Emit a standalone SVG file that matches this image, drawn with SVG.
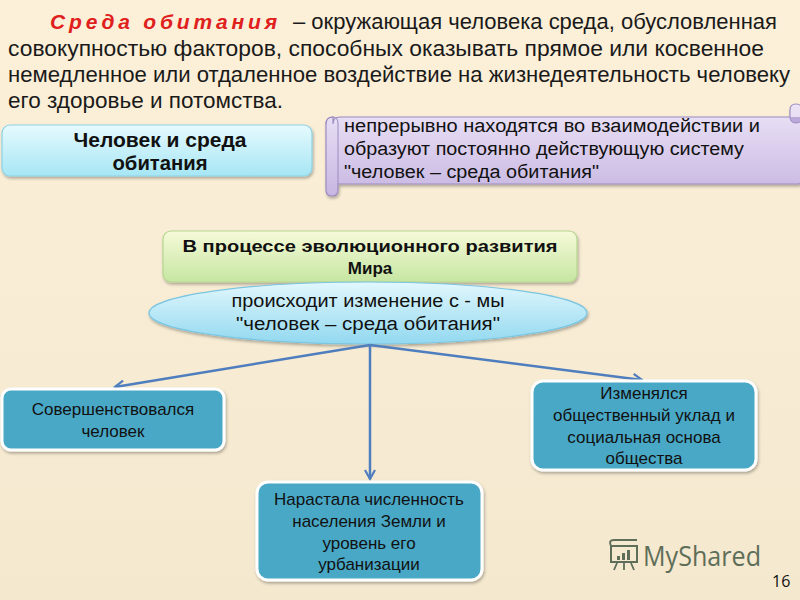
<svg xmlns="http://www.w3.org/2000/svg" width="800" height="600" viewBox="0 0 800 600">
<defs>
<linearGradient id="bg" x1="0" y1="0" x2="0" y2="1"><stop offset="0" stop-color="#FCF0D9"/><stop offset="1" stop-color="#F4E8CF"/></linearGradient>
<linearGradient id="cyan" x1="0" y1="0" x2="0" y2="1"><stop offset="0" stop-color="#E6FAFE"/><stop offset="1" stop-color="#A6E6F4"/></linearGradient>
<linearGradient id="lilac" x1="0" y1="0" x2="0" y2="1"><stop offset="0" stop-color="#EDE4F7"/><stop offset="1" stop-color="#C7B6E2"/></linearGradient>
<linearGradient id="green" x1="0" y1="0" x2="0" y2="1"><stop offset="0" stop-color="#F6FAD8"/><stop offset="1" stop-color="#C6E6A2"/></linearGradient>
<linearGradient id="ell" x1="0" y1="0" x2="0" y2="1"><stop offset="0" stop-color="#E2F7FD"/><stop offset="1" stop-color="#92D8F0"/></linearGradient>
<filter id="sh" x="-10%" y="-10%" width="120%" height="130%"><feDropShadow dx="1" dy="2" stdDeviation="1.5" flood-color="#000" flood-opacity="0.3"/></filter>
<marker id="ah" viewBox="0 0 12 12" refX="10" refY="6" markerWidth="12" markerHeight="12" markerUnits="userSpaceOnUse" orient="auto"><path d="M1,1 L10,6 L1,11" fill="none" stroke="#4F7EBE" stroke-width="2.2"/></marker>
</defs>
<style>
.t{font-family:"Liberation Sans",Arial,sans-serif;font-size:22px;fill:#1a1a1a}
.b{font-family:"Liberation Sans",Arial,sans-serif;font-weight:bold;fill:#111}
.s{font-family:"Liberation Sans",Arial,sans-serif;font-size:18px;fill:#111}
.bx{font-family:"Liberation Sans",Arial,sans-serif;font-size:17px;fill:#111;text-anchor:middle}
.teal{fill:#48A8C6;stroke:#fff;stroke-width:3;filter:url(#sh)}
.conn{stroke:#4F7EBE;stroke-width:2.5;fill:none;marker-end:url(#ah)}
</style>
<rect width="800" height="600" fill="url(#bg)"/>
<g id="definition">
<text x="50" y="29" font-family="Liberation Sans,Arial,sans-serif" font-size="21" font-weight="bold" font-style="italic" fill="#E0201C" letter-spacing="3" textLength="230" lengthAdjust="spacing">Среда обитания</text>
<text class="t" x="293" y="29" textLength="484" lengthAdjust="spacingAndGlyphs">– окружающая человека среда, обусловленная</text>
<text class="t" x="8" y="56" textLength="756" lengthAdjust="spacingAndGlyphs">совокупностью факторов, способных оказывать прямое или косвенное</text>
<text class="t" x="8" y="82" textLength="782" lengthAdjust="spacingAndGlyphs">немедленное или отдаленное воздействие на жизнедеятельность человеку</text>
<text class="t" x="8" y="108" textLength="275" lengthAdjust="spacingAndGlyphs">его здоровье и потомства.</text>
</g>
<g id="node-human-env">
<rect x="2" y="125" width="310" height="51" rx="8" fill="url(#cyan)" stroke="#8ED2E6" stroke-width="1.2" filter="url(#sh)"/>
<text class="b" font-size="20" text-anchor="middle" x="160" y="147" textLength="173" lengthAdjust="spacingAndGlyphs">Человек и среда</text>
<text class="b" font-size="20" text-anchor="middle" x="160" y="170" textLength="95" lengthAdjust="spacingAndGlyphs">обитания</text>
</g>
<g id="node-scroll">
<path d="M333,124 Q333,117 340,117 L790,117 L790,110 Q790,104 796,104 Q802,104 802,110 L802,180 Q802,184 798,184 L338,184 L338,190 Q338,196 332,196 Q326,196 326,190 L326,124 Q326,117 333,117 Z" fill="url(#lilac)" stroke="#9C8CC0" stroke-width="1.2" filter="url(#sh)"/>
<path d="M790,117 Q790,123 796,123 Q802,123 802,117" fill="#B9A8D8" stroke="#9C8CC0" stroke-width="1"/>
<path d="M326,124 Q326,117 333,117 Q338,117 338,124 L338,184" fill="none" stroke="#9C8CC0" stroke-width="1"/>
<text class="s" x="344" y="132" textLength="416" lengthAdjust="spacingAndGlyphs">непрерывно находятся во взаимодействии и</text>
<text class="s" x="344" y="155" textLength="400" lengthAdjust="spacingAndGlyphs">образуют постоянно действующую систему</text>
<text class="s" x="344" y="178" textLength="255" lengthAdjust="spacingAndGlyphs">"человек – среда обитания"</text>
</g>
<g id="node-evolution">
<rect x="163" y="231" width="414" height="51" rx="8" fill="url(#green)" stroke="#B6D690" stroke-width="1.2" filter="url(#sh)"/>
<text class="b" font-size="17" text-anchor="middle" x="370" y="252" textLength="375" lengthAdjust="spacingAndGlyphs">В процессе эволюционного развития</text>
<text class="b" font-size="17" text-anchor="middle" x="370" y="274">Мира</text>
</g>
<g id="node-change">
<ellipse cx="368" cy="313" rx="219" ry="31" fill="url(#ell)" stroke="#7CC6E2" stroke-width="1.2" filter="url(#sh)"/>
<text class="s" text-anchor="middle" x="368" y="307" textLength="273" lengthAdjust="spacingAndGlyphs">происходит изменение с - мы</text>
<text class="s" text-anchor="middle" x="368" y="330" textLength="264" lengthAdjust="spacingAndGlyphs">"человек – среда обитания"</text>
</g>
<g id="connectors">
<line class="conn" x1="370" y1="345" x2="115" y2="387"/>
<line class="conn" x1="370" y1="345" x2="370" y2="479"/>
<line class="conn" x1="370" y1="345" x2="642" y2="380"/>
</g>
<g id="node-person">
<rect class="teal" x="2" y="389" width="222" height="61" rx="9"/>
<text class="bx" x="113" y="415">Совершенствовался</text>
<text class="bx" x="113" y="437">человек</text>
</g>
<g id="node-population">
<rect class="teal" x="257" y="482" width="225" height="98" rx="11"/>
<text class="bx" x="369" y="505">Нарастала численность</text>
<text class="bx" x="369" y="527">населения Земли и</text>
<text class="bx" x="369" y="549">уровень его</text>
<text class="bx" x="369" y="570">урбанизации</text>
</g>
<g id="node-society">
<rect class="teal" x="532" y="381" width="224" height="89" rx="11"/>
<text class="bx" x="644" y="399">Изменялся</text>
<text class="bx" x="644" y="421">общественный уклад и</text>
<text class="bx" x="644" y="443">социальная основа</text>
<text class="bx" x="644" y="464">общества</text>
</g>
<g id="watermark" fill="#5E6E58" stroke="#5E6E58">
<rect x="611" y="546" width="26" height="16" fill="none" stroke-width="2"/>
<path d="M611,546 Q608,540 614,540 L637,540" fill="none" stroke-width="2"/>
<rect x="617" y="556" width="3" height="4" stroke="none"/>
<rect x="622" y="553" width="3" height="7" stroke="none"/>
<rect x="627" y="550" width="3" height="10" stroke="none"/>
<path d="M617,563 L614,570 M624,563 L624,570 M631,563 L634,570" stroke-width="1.8" fill="none"/>
<text x="643" y="566" font-family="Open Sans,Liberation Sans,sans-serif" font-size="27" stroke="none" textLength="118" lengthAdjust="spacingAndGlyphs">MyShared</text>
</g>
<text x="772" y="587" font-family="Open Sans,Liberation Sans,sans-serif" font-size="16" fill="#111">16</text>
</svg>
